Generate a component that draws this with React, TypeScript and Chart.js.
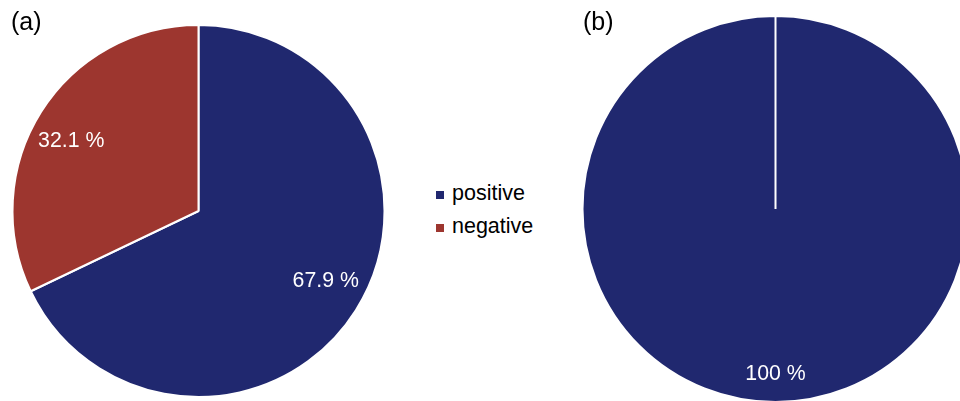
import React, { useEffect, useRef } from 'react';
import { Chart, registerables } from 'chart.js';

Chart.register(...registerables);

const categories = ['positive', 'negative'];
const seriesA = [67.9, 32.1];
const seriesB = [100, 0];
const labelsA = ['67.9 %', '32.1 %'];
const labelsB = ['100 %', ''];
const panelTitles = ['(a)', '(b)'];
const colors = ['#20286f', '#9d362f'];

const FONT = '"Liberation Sans", Arial, sans-serif';

function makeLabelPlugin(labels: string[], frac: number, shiftDeg: number) {
  return {
    id: 'sliceLabels',
    afterDatasetsDraw(chart: any) {
      const meta = chart.getDatasetMeta(0);
      const ctx = chart.ctx;
      ctx.save();
      ctx.fillStyle = '#ffffff';
      ctx.font = `21.3px ${FONT}`;
      ctx.textAlign = 'center';
      ctx.textBaseline = 'middle';
      meta.data.forEach((arc: any, i: number) => {
        const text = labels[i];
        if (!text) return;
        const p = arc.getProps(['x', 'y', 'startAngle', 'endAngle', 'outerRadius'], true);
        const mid = (p.startAngle + p.endAngle) / 2 + (shiftDeg * Math.PI) / 180;
        const r = p.outerRadius * frac;
        ctx.fillText(text, p.x + Math.cos(mid) * r, p.y + Math.sin(mid) * r);
      });
      ctx.restore();
    },
  };
}

function PieCanvas(props: {
  values: number[];
  labels: string[];
  radius: number;
  frac: number;
  shift: number;
  left: number;
  top: number;
  width: number;
  height: number;
}) {
  const ref = useRef<HTMLCanvasElement | null>(null);
  useEffect(() => {
    if (!ref.current) return;
    const chart = new Chart(ref.current, {
      type: 'pie',
      data: {
        labels: categories,
        datasets: [
          {
            data: props.values,
            backgroundColor: colors,
            borderColor: '#ffffff',
            borderWidth: 2,
          },
        ],
      },
      options: {
        responsive: false,
        animation: false,
        radius: props.radius,
        layout: { padding: 0 },
        plugins: {
          legend: { display: false },
          tooltip: { enabled: false },
        },
      } as any,
      plugins: [makeLabelPlugin(props.labels, props.frac, props.shift)],
    });
    return () => chart.destroy();
  }, []);
  return (
    <canvas
      ref={ref}
      width={props.width}
      height={props.height}
      style={{
        position: 'absolute',
        left: props.left,
        top: props.top,
        width: props.width,
        height: props.height,
      }}
    />
  );
}

export default function App() {
  useEffect(() => {
    document.body.style.margin = '0';
  }, []);
  const textStyle = (size: number): React.CSSProperties => ({
    position: 'absolute',
    fontFamily: FONT,
    fontSize: size,
    lineHeight: `${size}px`,
    color: '#000',
    whiteSpace: 'nowrap',
  });
  return (
    <div
      style={{
        position: 'relative',
        width: 960,
        height: 401,
        overflow: 'hidden',
        background: '#ffffff',
      }}
    >
      <PieCanvas
        values={seriesA}
        labels={labelsA}
        radius={186}
        frac={0.78}
        shift={-3.5}
        left={0}
        top={0}
        width={397}
        height={422}
      />
      <PieCanvas
        values={seriesB}
        labels={labelsB}
        radius={193}
        frac={0.857}
        shift={0}
        left={575}
        top={0}
        width={401}
        height={418}
      />
      <div style={{ ...textStyle(25), left: 11, top: 9 }}>{panelTitles[0]}</div>
      <div style={{ ...textStyle(25), left: 583, top: 9 }}>{panelTitles[1]}</div>
      {categories.map((c, i) => (
        <React.Fragment key={c}>
          <div
            style={{
              position: 'absolute',
              left: 436,
              top: 191 + i * 32.5,
              width: 8,
              height: 8,
              background: colors[i],
            }}
          />
          <div style={{ ...textStyle(21.5), left: 452, top: 183 + i * 32.5 }}>{c}</div>
        </React.Fragment>
      ))}
    </div>
  );
}
